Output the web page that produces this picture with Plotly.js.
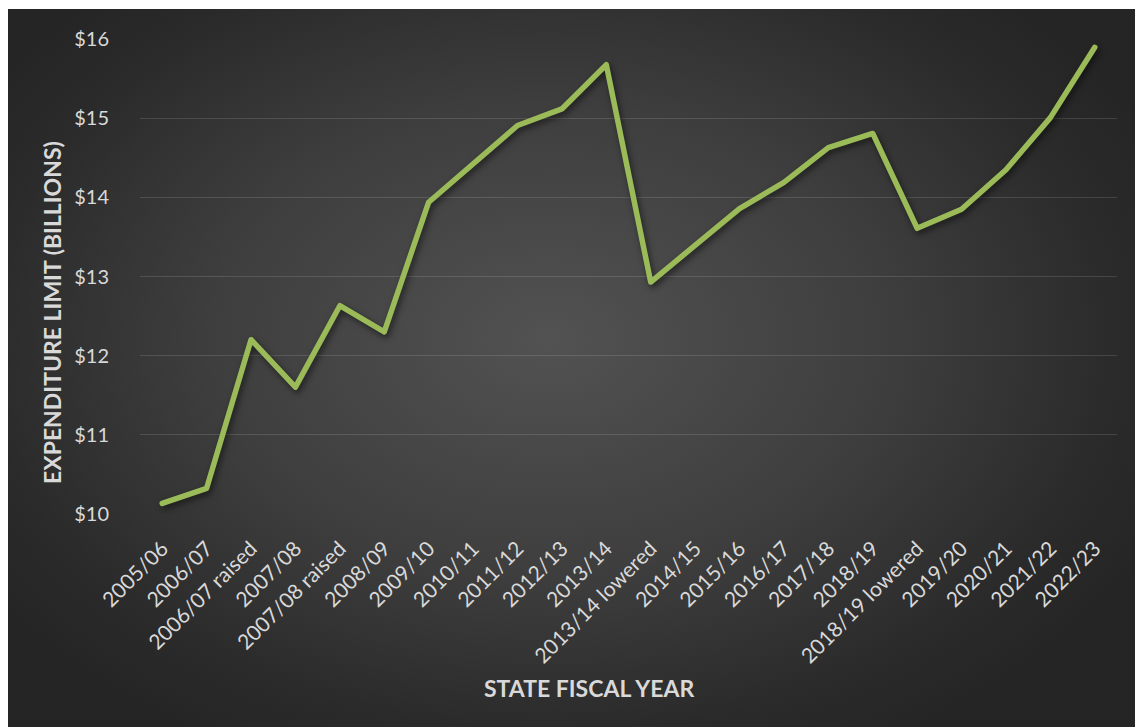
<!DOCTYPE html>
<html>
<head>
<meta charset="utf-8">
<script src="https://cdn.plot.ly/plotly-3.0.1.min.js"></script>
<style>
  html, body { margin: 0; padding: 0; background: #ffffff; width: 1135px; height: 727px; overflow: hidden; }
  #bg { position: absolute; left: 8px; top: 9px; width: 1127px; height: 718px;
        background: radial-gradient(ellipse 60% 65% at 48% 46%, #525252 0%, #3e3e3e 50%, #2a2a2a 85%, #252525 100%); }
  #chart { position: absolute; left: 0; top: 0; width: 1135px; height: 727px; }
  #chart .scatterlayer .js-line { filter: drop-shadow(2px 3px 3px rgba(0,0,0,0.55)); stroke-linejoin: round; stroke-linecap: round; }
</style>
</head>
<body>
<div id="bg"></div>
<div id="chart"></div>
<script>
const categories = [
  "2005/06", "2006/07", "2006/07 raised", "2007/08", "2007/08 raised", "2008/09",
  "2009/10", "2010/11", "2011/12", "2012/13", "2013/14", "2013/14 lowered",
  "2014/15", "2015/16", "2016/17", "2017/18", "2018/19", "2018/19 lowered",
  "2019/20", "2020/21", "2021/22", "2022/23"
];
const expenditureLimit = [
  10.13, 10.32, 12.20, 11.60, 12.63, 12.30,
  13.94, 14.43, 14.91, 15.12, 15.68, 12.93,
  13.40, 13.86, 14.19, 14.63, 14.81, 13.61,
  13.85, 14.35, 15.01, 15.90
];
const yTickValues = [10, 11, 12, 13, 14, 15, 16];
const yTickLabels = ["$10", "$11", "$12", "$13", "$14", "$15", "$16"];
const xTitle = "STATE FISCAL YEAR";
const yTitle = "EXPENDITURE LIMIT (BILLIONS)";

const fontFamily = "Lato, 'Open Sans', sans-serif";
const textColor = "#d9d9d9";

const trace = {
  type: "scatter",
  mode: "lines",
  x: categories,
  y: expenditureLimit,
  line: { color: "#9bbb59", width: 5.5 },
  hoverinfo: "x+y"
};

const layout = {
  width: 1135,
  height: 727,
  margin: { l: 140, r: 18, t: 39, b: 213 },
  paper_bgcolor: "rgba(0,0,0,0)",
  plot_bgcolor: "rgba(0,0,0,0)",
  showlegend: false,
  font: { family: fontFamily, color: textColor },
  xaxis: {
    type: "category",
    range: [-0.5, categories.length - 0.5],
    tickangle: -45,
    showgrid: false,
    zeroline: false,
    showline: false,
    ticks: "outside",
    ticklen: 13,
    tickcolor: "rgba(0,0,0,0)",
    tickfont: { family: fontFamily, size: 21, color: textColor },
    automargin: false
  },
  yaxis: {
    range: [9.995, 16.005],
    tickvals: yTickValues,
    ticktext: yTickLabels,
    showgrid: true,
    gridcolor: "rgba(255,255,255,0.13)",
    gridwidth: 1.3,
    zeroline: false,
    showline: false,
    ticks: "outside",
    ticklen: 26,
    tickcolor: "rgba(0,0,0,0)",
    tickfont: { family: fontFamily, size: 20, color: textColor },
    automargin: false
  },
  annotations: [
    {
      text: "<b>" + xTitle + "</b>",
      xref: "paper", yref: "paper",
      x: (589 - 140) / (1135 - 140 - 18),
      y: -(688 - 514) / (514 - 39),
      xanchor: "center", yanchor: "middle",
      showarrow: false,
      font: { family: fontFamily, size: 23, color: textColor }
    },
    {
      text: "<b>" + yTitle + "</b>",
      xref: "paper", yref: "paper",
      x: (52 - 140) / (1135 - 140 - 18),
      y: (514 - 313) / (514 - 39),
      xanchor: "center", yanchor: "middle",
      textangle: -90,
      showarrow: false,
      font: { family: fontFamily, size: 23, color: textColor }
    }
  ]
};

Plotly.newPlot("chart", [trace], layout, { displayModeBar: false, staticPlot: true });
</script>
</body>
</html>
